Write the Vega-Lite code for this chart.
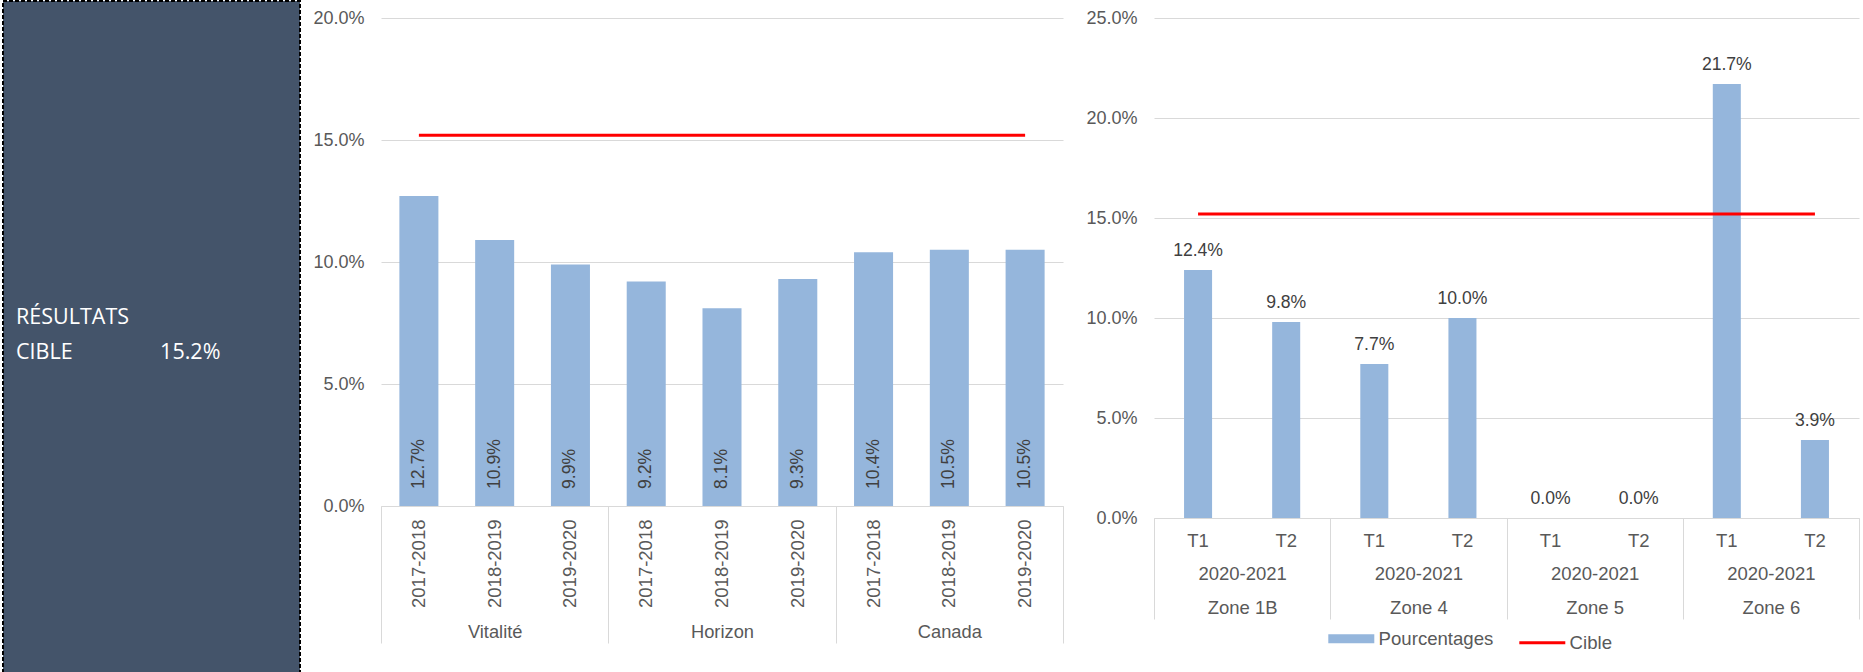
{
  "$schema": "https://vega.github.io/schema/vega-lite/v6.json",
  "padding": {"left": 2, "top": 0, "right": 0, "bottom": 0},
  "background": "white",
  "config": {"font": "Liberation Sans", "view": {"stroke": null}},
  "spacing": 81,
  "bounds": "flush",
  "resolve": {"scale": {"color": "independent"}, "legend": {"color": "independent"}},
  "hconcat": [
    {
      "width": 297,
      "height": 672,
      "view": {"fill": "#44546A", "stroke": "#000000", "strokeDash": [4, 2], "strokeWidth": 2},
      "data": {"values": [
        {"texte": "RÉSULTATS", "col": 0.044, "ligne": 0.519},
        {"texte": "CIBLE", "col": 0.044, "ligne": 0.467},
        {"texte": "15.2%", "col": 0.529, "ligne": 0.467}
      ]},
      "mark": {"type": "text", "align": "left", "baseline": "alphabetic", "font": "Open Sans", "fontSize": 21.5, "color": "#FFFFFF"},
      "encoding": {
        "x": {"field": "col", "type": "quantitative", "scale": {"domain": [0, 1]}, "axis": null},
        "y": {"field": "ligne", "type": "quantitative", "scale": {"domain": [0, 1]}, "axis": null},
        "text": {"field": "texte"}
      }
    },
    {
      "spacing": 91,
      "bounds": "flush",
      "resolve": {"scale": {"color": "independent"}, "legend": {"color": "independent"}},
      "hconcat": [
        {
          "width": 682,
          "height": 505,
          "data": {"values": [
            {"groupe": "Vitalité", "annee": "2017-2018", "cle": "Vitalité|2017-2018", "pct": 0.127, "cible": 0.152},
            {"groupe": "Vitalité", "annee": "2018-2019", "cle": "Vitalité|2018-2019", "pct": 0.109, "cible": 0.152},
            {"groupe": "Vitalité", "annee": "2019-2020", "cle": "Vitalité|2019-2020", "pct": 0.099, "cible": 0.152},
            {"groupe": "Horizon", "annee": "2017-2018", "cle": "Horizon|2017-2018", "pct": 0.092, "cible": 0.152},
            {"groupe": "Horizon", "annee": "2018-2019", "cle": "Horizon|2018-2019", "pct": 0.081, "cible": 0.152},
            {"groupe": "Horizon", "annee": "2019-2020", "cle": "Horizon|2019-2020", "pct": 0.093, "cible": 0.152},
            {"groupe": "Canada", "annee": "2017-2018", "cle": "Canada|2017-2018", "pct": 0.104, "cible": 0.152},
            {"groupe": "Canada", "annee": "2018-2019", "cle": "Canada|2018-2019", "pct": 0.105, "cible": 0.152},
            {"groupe": "Canada", "annee": "2019-2020", "cle": "Canada|2019-2020", "pct": 0.105, "cible": 0.152}
          ]},
          "resolve": {"scale": {"x": "independent"}, "axis": {"x": "independent"}},
          "layer": [
            {
              "layer": [
                {
                  "mark": {"type": "bar", "color": "#95B6DC"},
                  "encoding": {
                    "x": {"field": "cle", "type": "nominal", "sort": null,
                      "scale": {"paddingInner": 0.485, "paddingOuter": 0.2425},
                      "axis": {"orient": "bottom", "title": null, "labelExpr": "split(datum.value, '|')[1]", "labelAngle": 270,
                        "labelFontSize": 18.5, "labelColor": "#595959", "labelPadding": 13, "ticks": false,
                        "domain": true, "domainColor": "#D9D9D9", "grid": false}},
                    "y": {"field": "pct", "type": "quantitative",
                      "scale": {"domain": [0, 0.20697], "nice": false, "zero": true},
                      "axis": {"title": null, "values": [0, 0.05, 0.1, 0.15, 0.2], "format": ".1%", "labelFontSize": 18,
                        "labelColor": "#595959", "labelPadding": 17, "ticks": false, "domain": false,
                        "grid": true, "gridColor": "#D9D9D9", "gridWidth": 1}}
                  }
                },
                {
                  "mark": {"type": "text", "angle": 270, "align": "left", "baseline": "middle", "dx": 17, "fontSize": 17.6, "color": "#404040"},
                  "encoding": {
                    "x": {"field": "cle", "type": "nominal", "sort": null},
                    "y": {"datum": 0},
                    "text": {"field": "pct", "format": ".1%"}
                  }
                },
                {
                  "mark": {"type": "line", "color": "#FF0000", "strokeWidth": 3},
                  "encoding": {
                    "x": {"field": "cle", "type": "nominal", "sort": null},
                    "y": {"field": "cible", "type": "quantitative"}
                  }
                }
              ]
            },
            {
              "mark": {"type": "text", "text": ""},
              "encoding": {
                "x": {"field": "groupe", "type": "nominal", "sort": null,
                  "scale": {"paddingInner": 0, "paddingOuter": 0},
                  "axis": {"orient": "bottom", "title": null, "labelAngle": 0, "labelFontSize": 18.3, "labelColor": "#595959",
                    "labelPadding": -20, "ticks": true, "tickSize": 137, "tickColor": "#D9D9D9", "tickWidth": 1,
                    "tickBand": "extent", "domain": false, "grid": false}}
              }
            }
          ]
        },
        {
          "width": 705,
          "height": 517,
          "data": {"values": [
            {"zone": "Zone 1B", "periode": "T1", "cle": "Zone 1B|T1", "pct": 0.124, "cible": 0.152},
            {"zone": "Zone 1B", "periode": "T2", "cle": "Zone 1B|T2", "pct": 0.098, "cible": 0.152},
            {"zone": "Zone 4", "periode": "T1", "cle": "Zone 4|T1", "pct": 0.077, "cible": 0.152},
            {"zone": "Zone 4", "periode": "T2", "cle": "Zone 4|T2", "pct": 0.100, "cible": 0.152},
            {"zone": "Zone 5", "periode": "T1", "cle": "Zone 5|T1", "pct": 0.0, "cible": 0.152},
            {"zone": "Zone 5", "periode": "T2", "cle": "Zone 5|T2", "pct": 0.0, "cible": 0.152},
            {"zone": "Zone 6", "periode": "T1", "cle": "Zone 6|T1", "pct": 0.217, "cible": 0.152},
            {"zone": "Zone 6", "periode": "T2", "cle": "Zone 6|T2", "pct": 0.039, "cible": 0.152}
          ]},
          "resolve": {"scale": {"x": "independent"}, "axis": {"x": "independent"}},
          "layer": [
            {
              "layer": [
                {
                  "mark": {"type": "bar"},
                  "encoding": {
                    "x": {"field": "cle", "type": "nominal", "sort": null,
                      "scale": {"paddingInner": 0.682, "paddingOuter": 0.341},
                      "axis": {"orient": "bottom", "title": null, "labelExpr": "split(datum.value, '|')[1]", "labelAngle": 0,
                        "labelFontSize": 18.5, "labelColor": "#595959", "labelPadding": 13, "ticks": false,
                        "domain": true, "domainColor": "#D9D9D9", "grid": false}},
                    "y": {"field": "pct", "type": "quantitative",
                      "scale": {"domain": [0, 0.2585], "nice": false, "zero": true},
                      "axis": {"title": null, "values": [0, 0.05, 0.1, 0.15, 0.2, 0.25], "format": ".1%", "labelFontSize": 18,
                        "labelColor": "#595959", "labelPadding": 17, "ticks": false, "domain": false,
                        "grid": true, "gridColor": "#D9D9D9", "gridWidth": 1}},
                    "color": {"datum": "Pourcentages",
                      "scale": {"domain": ["Pourcentages", "Cible"], "range": ["#95B6DC", "#FF0000"]},
                      "legend": {"title": null, "orient": "none", "legendX": 188, "legendY": 628, "direction": "horizontal",
                        "symbolType": "stroke", "symbolSize": 2116, "symbolStrokeWidth": 9,
                        "labelFontSize": 18.6, "labelColor": "#595959", "labelOffset": 8, "columnPadding": 19,
                        "encode": {
                          "symbols": {"update": {
                            "size": {"value": 2116},
                            "stroke": {"signal": "datum.value === 'Cible' ? '#FF0000' : '#95B6DC'"},
                            "strokeWidth": {"signal": "datum.value === 'Cible' ? 3 : 9"}}},
                          "labels": {"update": {"dx": {"value": 10}}}}}}
                  }
                },
                {
                  "mark": {"type": "text", "baseline": "alphabetic", "dy": -14, "fontSize": 17.6, "color": "#404040"},
                  "encoding": {
                    "x": {"field": "cle", "type": "nominal", "sort": null},
                    "y": {"field": "pct", "type": "quantitative"},
                    "text": {"field": "pct", "format": ".1%"}
                  }
                },
                {
                  "mark": {"type": "line", "strokeWidth": 3},
                  "encoding": {
                    "x": {"field": "cle", "type": "nominal", "sort": null},
                    "y": {"field": "cible", "type": "quantitative"},
                    "color": {"datum": "Cible"}
                  }
                }
              ]
            },
            {
              "mark": {"type": "text", "text": ""},
              "encoding": {
                "x": {"field": "zone", "type": "nominal", "sort": null,
                  "scale": {"paddingInner": 0, "paddingOuter": 0},
                  "axis": {"orient": "bottom", "title": null, "labelAngle": 0, "labelFontSize": 18.5, "labelColor": "#595959",
                    "labelExpr": "datum.value ? ['2020-2021', datum.value] : ''", "labelLineHeight": 34,
                    "labelPadding": -55, "ticks": true, "tickSize": 101, "tickColor": "#D9D9D9", "tickWidth": 1,
                    "tickBand": "extent", "domain": false, "grid": false}}
              }
            }
          ]
        }
      ]
    }
  ]
}
